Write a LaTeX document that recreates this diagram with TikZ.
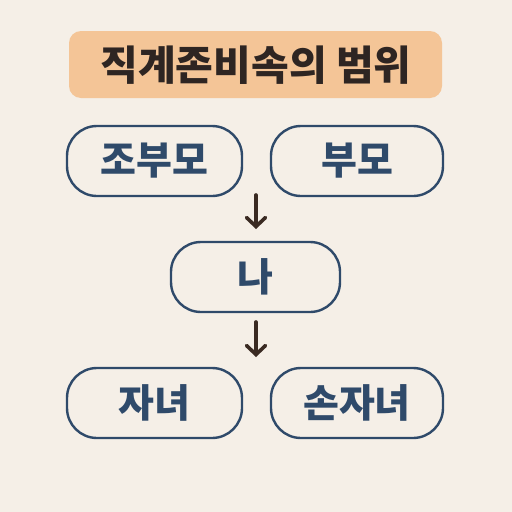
\documentclass[tikz,border=0pt]{standalone}
\usepackage{fontspec}
\newfontfamily\kr{Noto Sans CJK KR Black}
\usetikzlibrary{arrows.meta}
\definecolor{bg}{HTML}{F5EFE7}
\definecolor{titlefill}{HTML}{F4C597}
\definecolor{titletext}{HTML}{2E2522}
\definecolor{navy}{HTML}{2F4A6A}
\definecolor{arrowc}{HTML}{3A2A22}
\tikzset{
  titlebox/.style={fill=titlefill, rounded corners=12pt},
  titletxt/.style={text=titletext, font=\kr\fontsize{41}{44}\selectfont},
  person/.style={draw=navy, line width=2.4pt, rounded corners=30pt, fill=bg},
  persontxt/.style={text=navy, font=\kr\fontsize{39}{42}\selectfont},
  conn/.style={draw=arrowc, line width=3.6pt, line cap=round, -{Straight Barb[length=9pt,width=19pt,line width=3.6pt,line cap=round]}}
}
\begin{document}
\begin{tikzpicture}[x=1pt,y=-1pt]
\fill[bg] (0,0) rectangle (512,512);
\useasboundingbox (0,0) rectangle (512,512);
\path[titlebox] (69,31) rectangle (442,98);
\node[titletxt] (title) at (256,65) {직계존비속의 범위};
\draw[person] (67,126) rectangle (242,196);
\node[persontxt] (jobumo) at (154.5,161) {조부모};
\draw[person] (271,126) rectangle (443,196);
\node[persontxt] (bumo) at (357,161) {부모};
\draw[person] (171,242) rectangle (340,312);
\node[persontxt] (na) at (255.5,277) {나};
\draw[person] (67,368) rectangle (242,438);
\node[persontxt] (janyeo) at (154.5,403) {자녀};
\draw[person] (271,368) rectangle (443,438);
\node[persontxt] (sonjanyeo) at (357,403) {손자녀};
\coordinate (a1s) at (256,195);
\coordinate (a1e) at (256,229);
\coordinate (a2s) at (256,322);
\coordinate (a2e) at (256,357);
\draw[conn] (a1s) -- (a1e);
\draw[conn] (a2s) -- (a2e);
\end{tikzpicture}
\end{document}
